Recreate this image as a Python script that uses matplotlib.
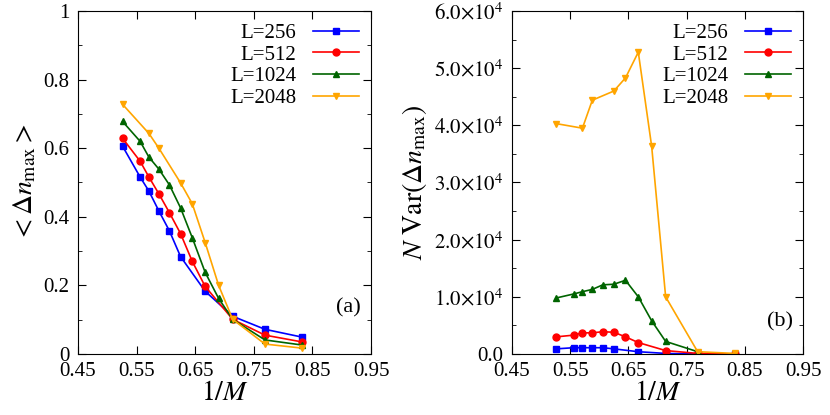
import matplotlib
matplotlib.use("Agg")
import matplotlib.pyplot as plt
from matplotlib.ticker import MultipleLocator, FuncFormatter, FixedLocator

plt.rcParams["font.family"] = "Liberation Serif"
plt.rcParams["mathtext.fontset"] = "stix"

xticks = [0.45, 0.55, 0.65, 0.75, 0.85, 0.95]
xa = [0.526, 0.556, 0.571, 0.588, 0.606, 0.625, 0.645, 0.667, 0.690, 0.714, 0.769, 0.833]
# panel (a)
a256_x = [0.526, 0.556, 0.571, 0.588, 0.606, 0.625, 0.667, 0.714, 0.769, 0.833]
a256_y = [0.606, 0.516, 0.475, 0.417, 0.359, 0.284, 0.183, 0.110, 0.072, 0.049]
a512_x = [0.526, 0.556, 0.571, 0.588, 0.606, 0.625, 0.645, 0.667, 0.714, 0.769, 0.833]
a512_y = [0.629, 0.562, 0.516, 0.467, 0.412, 0.351, 0.270, 0.197, 0.101, 0.055, 0.035]
a1024_x = xa
a1024_y = [0.678, 0.620, 0.574, 0.539, 0.493, 0.426, 0.339, 0.238, 0.162, 0.101, 0.041, 0.026]
a2048_x = [0.526, 0.571, 0.588, 0.625, 0.645, 0.667, 0.690, 0.714, 0.769, 0.833]
a2048_y = [0.728, 0.643, 0.600, 0.499, 0.438, 0.325, 0.200, 0.101, 0.029, 0.017]
# panel (b), values in units of 1e4
b256_x = [0.526, 0.556, 0.571, 0.588, 0.606, 0.625, 0.667, 0.714, 0.769, 0.833]
b256_y = [0.09, 0.11, 0.11, 0.11, 0.11, 0.09, 0.04, 0.01, 0.0, 0.0]
b512_x = [0.526, 0.556, 0.571, 0.588, 0.606, 0.625, 0.645, 0.667, 0.714, 0.769, 0.833]
b512_y = [0.30, 0.33, 0.37, 0.37, 0.39, 0.38, 0.30, 0.20, 0.06, 0.01, 0.0]
b1024_x = [0.526, 0.556, 0.571, 0.588, 0.606, 0.625, 0.645, 0.667, 0.690, 0.714, 0.769]
b1024_y = [0.98, 1.05, 1.09, 1.13, 1.21, 1.22, 1.29, 1.0, 0.58, 0.22, 0.04]
b2048_x = [0.526, 0.571, 0.588, 0.625, 0.645, 0.667, 0.690, 0.714, 0.769, 0.833]
b2048_y = [4.03, 3.95, 4.44, 4.60, 4.83, 5.28, 3.63, 1.00, 0.04, 0.01]

labels = ["L=256", "L=512", "L=1024", "L=2048"]
colors = ["#0000ff", "#ff0000", "#006400", "#ffa500"]
markers = ["s", "o", "^", "v"]

fig = plt.figure(figsize=(8.3, 4.15), dpi=100)
ax1 = fig.add_axes([78/830, 61/415, 293/830, 343/415])
ax2 = fig.add_axes([512/830, 61/415, 291/830, 343/415])

A = [(a256_x, a256_y), (a512_x, a512_y), (a1024_x, a1024_y), (a2048_x, a2048_y)]
B = [(b256_x, b256_y), (b512_x, b512_y), (b1024_x, b1024_y), (b2048_x, b2048_y)]
for (x, y), c, m, l in zip(A, colors, markers, labels):
    ax1.plot(x, y, color=c, marker=m, ms=5, lw=1.2, label=l)
for (x, y), c, m, l in zip(B, colors, markers, labels):
    ax2.plot(x, [v * 1e4 for v in y], color=c, marker=m, ms=5, lw=1.2, label=l)

for ax in (ax1, ax2):
    ax.set_xlim(0.45, 0.95)
    ax.xaxis.set_major_locator(FixedLocator(xticks))
    ax.xaxis.set_major_formatter(FuncFormatter(lambda v, p: f"{v:.2f}"))
    ax.tick_params(direction="in", which="both", top=True, right=True, labelsize=15, pad=6)
    ax.tick_params(which="major", length=6)
    ax.tick_params(which="minor", length=3)
    ax.set_xlabel(r"$1/M$", fontsize=20, labelpad=0)
    ax.legend(loc="upper right", frameon=False, fontsize=15, markerfirst=False,
              handlelength=2.2, borderaxespad=0.2, labelspacing=0.1)

ax1.set_ylim(0, 1)
ax1.yaxis.set_major_locator(MultipleLocator(0.2))
ax1.yaxis.set_minor_locator(MultipleLocator(0.1))
ax1.yaxis.set_major_formatter(FuncFormatter(lambda v, p: "0" if abs(v) < 1e-9 else ("1" if abs(v - 1) < 1e-9 else f"{v:.1f}")))
ax1.set_ylabel(r"$<\Delta n_{\max}>$", fontsize=20)
ax1.text(0.965, 0.12, "(a)", transform=ax1.transAxes, fontsize=16, ha="right")

ax2.set_ylim(0, 6e4)
ax2.yaxis.set_major_locator(MultipleLocator(1e4))
ax2.yaxis.set_minor_locator(MultipleLocator(5e3))
ax2.yaxis.set_major_formatter(FuncFormatter(lambda v, p: "0.0" if v == 0 else rf"${v/1e4:.1f}{{\times}}10^4$"))
ax2.set_ylabel(r"$N\ \mathrm{Var}(\Delta n_{\max})$", fontsize=20)
ax2.text(0.965, 0.08, "(b)", transform=ax2.transAxes, fontsize=16, ha="right")

fig.savefig("out.png", dpi=100)
